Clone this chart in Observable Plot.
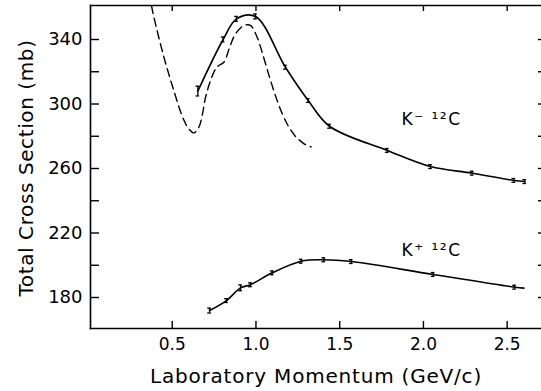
<!DOCTYPE html>
<html><head><meta charset="utf-8">
<script src="https://cdn.jsdelivr.net/npm/d3@7"></script>
<script src="https://cdn.jsdelivr.net/npm/@observablehq/plot@0.6"></script>
<style>body{margin:0;background:#fff} svg{display:block}</style>
</head><body><div id="chart"></div>
<script>
// K- 12C measured points
const kmX = [0.653, 0.804, 0.884, 0.997, 1.176, 1.312, 1.439, 1.784, 2.042, 2.291, 2.540, 2.605];
const kmY = [308.0, 340.0, 352.8, 354.3, 322.8, 302.2, 286.2, 271.2, 261.2, 257.1, 252.6, 251.9];
const kmErr = [3, 1.5, 1.5, 1.5, 1.2, 1.2, 1.2, 1.2, 1.2, 1.2, 1.2, 1.2];
// K+ 12C measured points
const kpX = [0.723, 0.824, 0.908, 0.967, 1.097, 1.270, 1.405, 1.569, 2.058, 2.544];
const kpY = [171.9, 178.1, 186.0, 187.9, 195.3, 202.5, 203.4, 202.3, 194.3, 186.4];
const kpErr = [1.5, 1.2, 1.8, 1.2, 1.2, 1.2, 1.2, 1.2, 1.2, 1.2];
// K+ curve end (line continues a little past last point)
const kpEndX = [2.600];
const kpEndY = [185.8];
// dashed curve
const dashX = [0.376, 0.390, 0.450, 0.509, 0.566, 0.599, 0.629, 0.659, 0.679, 0.699, 0.729, 0.759, 0.778, 0.808, 0.848, 0.878, 0.928, 0.967, 1.007, 1.040, 1.080, 1.117, 1.157, 1.195, 1.235, 1.267, 1.300, 1.330];
const dashY = [361.0, 354.1, 329.2, 308.5, 290.8, 284.6, 282.1, 285.6, 292.9, 304.2, 314.6, 321.8, 323.9, 325.9, 336.6, 343.5, 348.7, 348.7, 341.4, 331.0, 317.0, 305.0, 294.0, 286.0, 280.0, 277.0, 274.5, 273.4];
// ticks
const xTicks = [0.5, 1.0, 1.5, 2.0, 2.5];
const xTickLabels = ["0.5", "1.0", "1.5", "2.0", "2.5"];
const yTicks = [180, 220, 260, 300, 340];
const yTickLabels = ["180", "220", "260", "300", "340"];
const yMinor = [200, 240, 280, 320];
const yRight = [180, 200, 220, 240, 260, 280, 300, 320, 340];
// labels
const seriesLabels = ["K\u207B \u00B9\u00B2C", "K\u207A \u00B9\u00B2C"];
const labelX = [1.869, 1.869];
const labelY = [286.7, 206.0];
const xTitle = "Laboratory Momentum (GeV/c)";
const yTitle = "Total Cross Section (mb)";

const km = kmX.map((x, i) => ({x, y: kmY[i], e: kmErr[i]}));
const kp = kpX.map((x, i) => ({x, y: kpY[i], e: kpErr[i]}));
const kpLine = kp.concat(kpEndX.map((x, i) => ({x, y: kpEndY[i]})));
const dash = dashX.map((x, i) => ({x, y: dashY[i]}));
const labels = seriesLabels.map((t, i) => ({t, x: labelX[i], y: labelY[i]}));
const pts = km.concat(kp);
const cap = 0.011;

const chart = Plot.plot({
  width: 541, height: 391,
  marginLeft: 90, marginRight: 0, marginTop: 5, marginBottom: 63,
  style: {fontFamily: "DejaVu Sans", background: "#fff", color: "#000"},
  x: {domain: [0.012, 2.705], axis: null},
  y: {domain: [160.78, 361.09], axis: null},
  marks: [
    Plot.frame({anchor: "left", strokeWidth: 1.6}),
    Plot.frame({anchor: "bottom", strokeWidth: 1.6}),
    Plot.frame({anchor: "top", strokeWidth: 1.6}),
    Plot.axisY({ticks: yTicks.concat(yMinor), tickSize: -9, fill: "none", strokeWidth: 1.4, label: null}),
    Plot.axisY({anchor: "right", ticks: yRight, tickSize: -4, fill: "none", strokeWidth: 1.4, label: null}),
    Plot.axisY({ticks: yTicks, tickSize: 0, tickPadding: 8, fontSize: 18, tickFormat: d => yTickLabels[yTicks.indexOf(d)], label: null}),
    Plot.axisX({ticks: xTicks, tickSize: -7, fill: "none", strokeWidth: 1.4, label: null}),
    Plot.axisX({anchor: "top", ticks: xTicks, tickSize: -5, fill: "none", strokeWidth: 1.4, label: null}),
    Plot.axisX({ticks: xTicks, tickSize: 0, tickPadding: 9, fontSize: 17, tickFormat: d => xTickLabels[xTicks.indexOf(d)], label: null}),
    Plot.line(dash, {x: "x", y: "y", curve: "catmull-rom", stroke: "#000", strokeWidth: 1.4, strokeDasharray: "8,5", clip: true}),
    Plot.line(km, {x: "x", y: "y", curve: "catmull-rom", stroke: "#000", strokeWidth: 1.6}),
    Plot.line(kpLine, {x: "x", y: "y", curve: "catmull-rom", stroke: "#000", strokeWidth: 1.6}),
    Plot.ruleX(pts, {x: "x", y1: d => d.y - d.e, y2: d => d.y + d.e, strokeWidth: 1.3}),
    Plot.ruleY(pts, {y: d => d.y - d.e, x1: d => d.x - cap, x2: d => d.x + cap, strokeWidth: 1.3}),
    Plot.ruleY(pts, {y: d => d.y + d.e, x1: d => d.x - cap, x2: d => d.x + cap, strokeWidth: 1.3}),
    Plot.text(labels, {x: "x", y: "y", text: "t", textAnchor: "start", lineAnchor: "bottom", fontSize: 17}),
    Plot.text([xTitle], {frameAnchor: "bottom", textAnchor: "middle", dy: 54, lineAnchor: "bottom", fontSize: 20}),
    Plot.text([yTitle], {frameAnchor: "left", textAnchor: "middle", dx: -58, dy: 1, rotate: -90, lineAnchor: "bottom", fontSize: 20})
  ]
});
document.getElementById("chart").appendChild(chart);
d3.select(chart).selectAll("text").filter(function() { return this.textContent === xTitle; }).attr("letter-spacing", "0.8px");
d3.select(chart).selectAll("text").filter(function() { return this.textContent === yTitle; }).attr("letter-spacing", "0.6px");
d3.select(chart).selectAll("text").filter(function() { return seriesLabels.includes(this.textContent); }).attr("letter-spacing", "1.5px");
</script>
</body></html>
